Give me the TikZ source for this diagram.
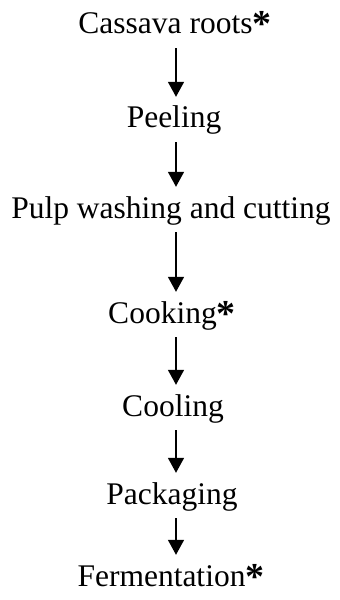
\documentclass[tikz,border=0pt]{standalone}
\usepackage{fontspec}
\setmainfont{Liberation Serif}
\usetikzlibrary{arrows.meta}
\tikzset{stage/.style={anchor=base,inner sep=0pt,text height=22bp,text depth=7bp},
  flow/.style={->,line width=1.6bp,shorten <=7bp,shorten >=9bp}}
\newcommand{\keystep}{\raisebox{-3bp}{\fontsize{38bp}{38bp}\selectfont\textbf{*}}}
\begin{document}
\begin{tikzpicture}[x=1bp,y=-1bp,>={Triangle[length=15bp,width=16bp]},line join=round,font=\fontsize{31.5bp}{38bp}\selectfont]
\useasboundingbox (0,0) rectangle (339,600);
\coordinate (axis) at (176,0);
\node[stage] (roots) at (175,34) {Cassava roots\keystep};
\node[stage] (peel) at (174,128) {Peeling};
\node[stage] (wash) at (171,218) {Pulp washing and cutting};
\node[stage] (cook) at (172,323) {Cooking\keystep};
\node[stage] (cool) at (173,416) {Cooling};
\node[stage] (pack) at (172,504) {Packaging};
\node[stage] (ferm) at (171,586) {Fermentation\keystep};
\foreach \a/\b in {roots/peel,peel/wash,wash/cook,cook/cool,cool/pack,pack/ferm}
  \draw[flow] (\a.south -| axis) -- (\b.north -| axis);
\end{tikzpicture}
\end{document}
